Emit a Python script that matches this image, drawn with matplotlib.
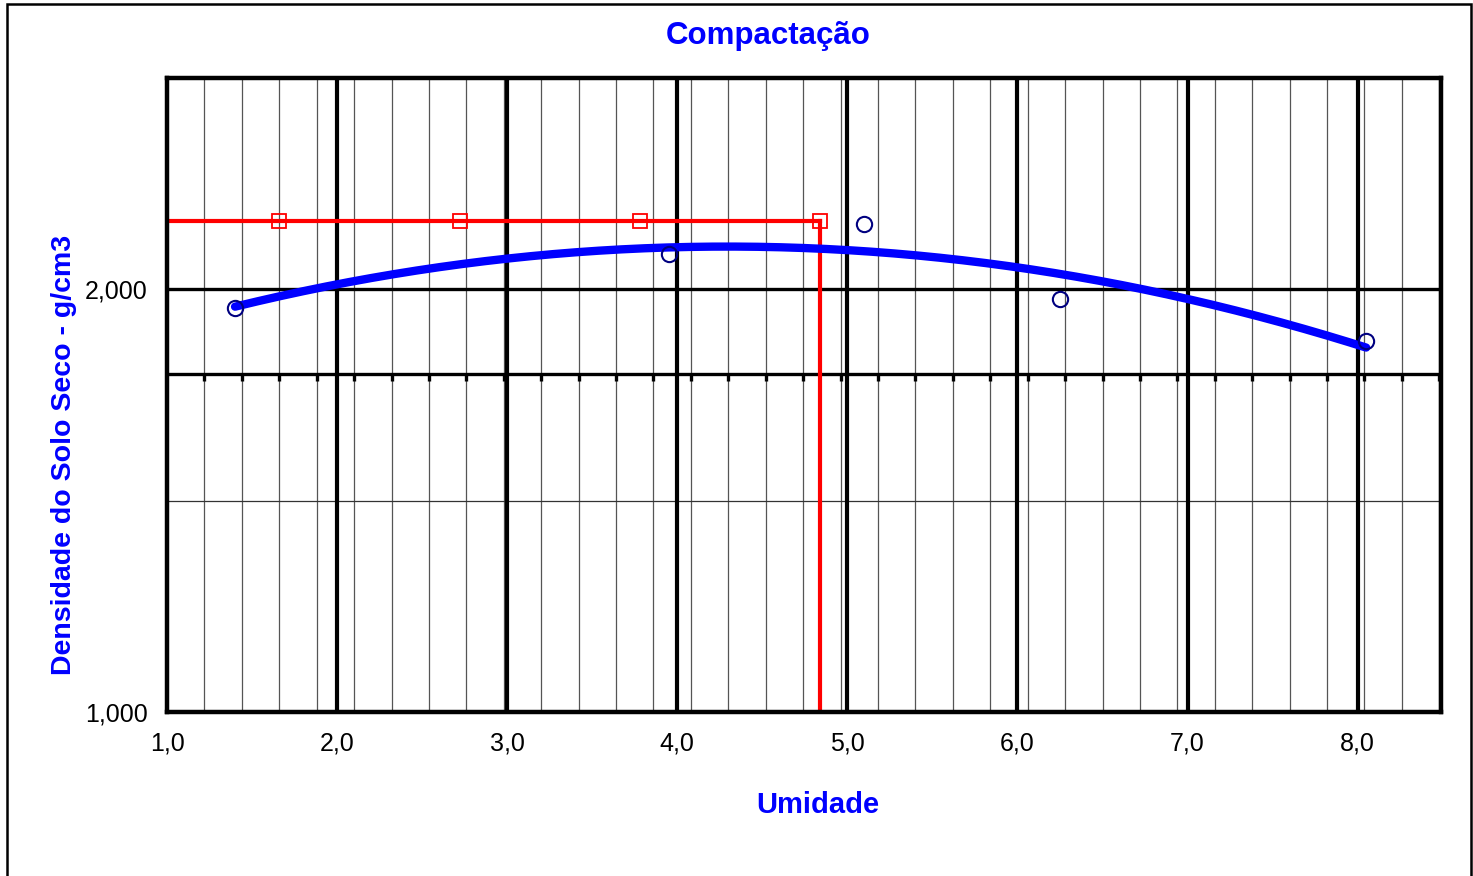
import numpy as np
import matplotlib.pyplot as plt
from matplotlib.ticker import FixedLocator, FuncFormatter
from matplotlib.patches import Rectangle

plt.rcParams["font.family"] = ["Liberation Sans", "DejaVu Sans"]

# ensaio de compactacao: umidade x densidade seca
umidade = [1.40, 3.95, 5.10, 6.25, 8.05]
densidade = [1.957, 2.083, 2.154, 1.976, 1.877]

# linha de referencia (densidade maxima / umidade otima)
ref_x = [0.60, 1.66, 2.72, 3.78, 4.84]
ref_y = [2.161, 2.161, 2.161, 2.161, 2.161]
otima_x = [4.84, 4.84]
otima_y = [2.161, 0.90]

linha_eixo = 1.8
x_major = [1, 2, 3, 4, 5, 6, 7, 8]
x_minor = np.arange(1.0, 8.5, 0.22)
y_major = [1.0, 2.0]
y_minor = [1.5]

fig = plt.figure(figsize=(14.73, 8.76), dpi=100)
ax = fig.add_axes([167 / 1473, 1 - 712 / 876, (1441 - 167) / 1473, (712 - 78) / 876])

# moldura externa
fig.patches.append(Rectangle((7 / 1473, -0.1), (1471 - 7) / 1473, 1.1 - 4 / 876,
                             transform=fig.transFigure, fill=False,
                             edgecolor="black", linewidth=1.8))

ax.set_xlim(1.0, 8.49)
ax.set_ylim(1.0, 2.5)

for xv in x_minor:
    ax.axvline(xv, color="#555555", linewidth=0.9, zorder=1)
for yv in y_minor:
    ax.axhline(yv, color="#333333", linewidth=0.9, zorder=1)
for xv in x_major[1:]:
    ax.axvline(xv, color="black", linewidth=3.0, zorder=2)
ax.axhline(2.0, color="black", linewidth=2.4, zorder=2)
ax.axhline(linha_eixo, color="black", linewidth=2.4, zorder=2)
ax.plot(x_minor[1:], [linha_eixo] * len(x_minor[1:]), linestyle="none",
        marker=3, markersize=5, markeredgewidth=2.4, color="black", zorder=2)

# curva de ajuste (polinomio de 2o grau)
coef = np.polyfit(umidade, densidade, 2)
xs = np.linspace(min(umidade), max(umidade), 200)
ax.plot(xs, np.polyval(coef, xs), color="#0000FF", linewidth=6,
        solid_capstyle="round", zorder=4)
ax.plot(umidade, densidade, linestyle="none", marker="o", markersize=11,
        markerfacecolor="none", markeredgecolor="#000080",
        markeredgewidth=1.5, zorder=5)

ax.plot(ref_x, ref_y, color="#FF0000", linewidth=3.0, marker="s",
        markersize=10, markerfacecolor="none", markeredgecolor="#FF0000",
        markeredgewidth=1.3, zorder=3)
ax.plot(otima_x, otima_y, color="#FF0000", linewidth=3.0, zorder=3)

ax.xaxis.set_major_locator(FixedLocator(x_major))
ax.yaxis.set_major_locator(FixedLocator(y_major))
ax.xaxis.set_major_formatter(FuncFormatter(lambda v, p: f"{v:.1f}".replace(".", ",")))
ax.yaxis.set_major_formatter(FuncFormatter(lambda v, p: f"{v:.3f}".replace(".", ",")))
ax.tick_params(axis="both", length=0, labelsize=18, colors="black")
ax.tick_params(axis="x", pad=14)
ax.tick_params(axis="y", pad=14)

for s in ax.spines.values():
    s.set_linewidth(3.2)
    s.set_zorder(6)

fig.text(768 / 1473, 1 - 36 / 876, "Compactação", color="#0000FF",
         fontsize=22.5, fontweight="bold", ha="center", va="center")
fig.text(818 / 1473, 1 - 805 / 876, "Umidade", color="#0000FF",
         fontsize=21, fontweight="bold", ha="center", va="center")
fig.text(64 / 1473, 1 - 455 / 876, "Densidade do Solo Seco - g/cm3",
         color="#0000FF", fontsize=20.5, fontweight="bold", rotation=90,
         ha="center", va="center")

fig.savefig("out.png", dpi=100)
